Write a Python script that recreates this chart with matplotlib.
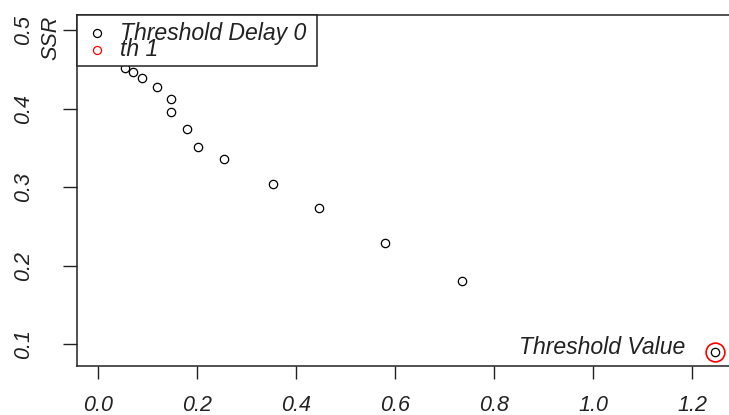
import matplotlib
matplotlib.use('Agg')
import matplotlib.pyplot as plt
from matplotlib.patches import Rectangle

plt.rcParams['font.family'] = ['Liberation Sans', 'DejaVu Sans']

# threshold delay 0: candidate threshold vs SSR (first two sit under the legend)
thresh = [0.008, 0.030, 0.0551, 0.0718, 0.0900, 0.1191, 0.1479, 0.1479,
          0.1796, 0.2018, 0.2555, 0.3532, 0.4460, 0.5792, 0.7346, 1.2448]
ssr = [0.503, 0.480, 0.4524, 0.4465, 0.4389, 0.4282, 0.4121, 0.3963,
       0.3743, 0.3517, 0.3361, 0.3042, 0.2740, 0.2294, 0.1810, 0.0902]
# chosen threshold (th 1)
th_x = [1.2448]
th_y = [0.0902]

x_ticks = [0.0, 0.2, 0.4, 0.6, 0.8, 1.0, 1.2]
y_ticks = [0.1, 0.2, 0.3, 0.4, 0.5]
legend_labels = ['Threshold Delay 0', 'th 1']

W, H = 729, 415
fig = plt.figure(figsize=(W / 100, H / 100), dpi=100)


def fx(px):
    return px / W


def fy(py):
    return 1 - py / H


# plot box runs past the right edge of the image
ax = fig.add_axes([fx(76.7), fy(365.7), fx(738) - fx(76.7), fy(15) - fy(365.7)])
ax.set_xlim(-0.0424, 1.2922)
ax.set_ylim(0.0727, 0.5195)

ax.plot(thresh, ssr, 'o', ms=6, mfc='none', mec='black', mew=0.9, zorder=3)
ax.plot(th_x, th_y, 'o', ms=13.5, mfc='none', mec='red', mew=1.2, zorder=3)

ax.text(1.185, 0.0876, 'Threshold Value', ha='right', va='baseline',
        fontsize=16.6, style='italic', color='#222222')

ax.set_xticks(x_ticks)
ax.set_xticklabels(['%.1f' % v for v in x_ticks], style='italic')
ax.set_yticks(y_ticks)
ax.set_yticklabels(['%.1f' % v for v in y_ticks], style='italic',
                   rotation=90, va='center')
ax.tick_params(axis='x', length=9, width=1, pad=12, labelsize=15.5,
               colors='#222222')
ax.tick_params(axis='y', length=10, width=1, pad=20.5, labelsize=15.5,
               colors='#222222')
for s in ax.spines.values():
    s.set_linewidth(1.1)
    s.set_color('#222222')

fig.text(fx(51), fy(38), 'SSR', rotation=90, ha='center', va='center',
         fontsize=15.5, style='italic', color='#222222')

# R style legend box in the top left corner
ax.add_patch(Rectangle((fx(76.7), fy(65.7)), fx(317) - fx(76.7),
                       fy(15) - fy(65.7), transform=fig.transFigure,
                       facecolor='white', edgecolor='#222222', lw=1.1,
                       clip_on=False, zorder=5))
leg_y = [33.3, 50]
leg_col = ['black', 'red']
for yy, col, lab in zip(leg_y, leg_col, legend_labels):
    ax.plot([fx(97.3)], [fy(yy)], 'o', ms=5.8, mfc='none', mec=col, mew=0.9,
            transform=fig.transFigure, clip_on=False, zorder=6)
    ax.text(fx(120), fy(yy), lab, transform=fig.transFigure, ha='left',
            va='center', fontsize=16.6, style='italic', color='#222222',
            zorder=6)

fig.savefig('out.png', dpi=100)
